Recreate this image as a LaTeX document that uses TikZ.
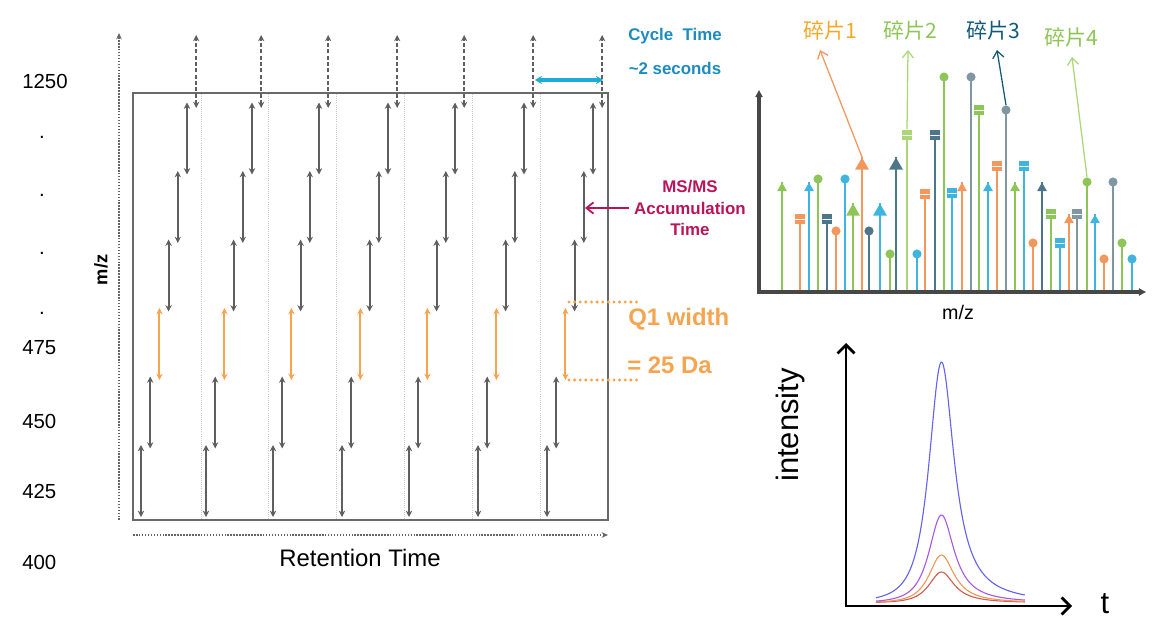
\documentclass[tikz,border=0pt]{standalone}
\usepackage{fontspec}
\setmainfont{Liberation Sans}
\newfontfamily\cjk{Noto Sans CJK SC}
\usetikzlibrary{arrows.meta,shapes.geometric}

\definecolor{scangray}{RGB}{95,95,95}
\definecolor{framegray}{RGB}{105,105,105}
\definecolor{q1orange}{RGB}{245,165,80}
\definecolor{cyccyan}{RGB}{30,172,215}
\definecolor{cyctext}{RGB}{28,140,190}
\definecolor{msmagenta}{RGB}{185,20,90}
\definecolor{fgreen}{RGB}{141,198,86}
\definecolor{lgreen}{RGB}{172,214,120}
\definecolor{forange}{RGB}{243,151,92}
\definecolor{fyellow}{RGB}{245,168,40}
\definecolor{fcyan}{RGB}{62,180,222}
\definecolor{fslate}{RGB}{78,118,138}
\definecolor{fgrey}{RGB}{128,150,162}
\definecolor{fteal}{RGB}{20,90,120}
\definecolor{pkblue}{RGB}{100,100,235}
\definecolor{pkpurple}{RGB}{170,90,220}
\definecolor{pkorange}{RGB}{240,150,90}
\definecolor{pkred}{RGB}{205,95,80}

\tikzset{
  scan/.style={scangray, line width=1.4pt,
    {Stealth[length=4.5pt,width=4.5pt]}-{Stealth[length=4.5pt,width=4.5pt]}},
  q1scan/.style={scan, q1orange},
  dscan/.style={scan, dash pattern=on 3pt off 1.5pt},
  sep/.style={black!22, densely dotted, line width=0.5pt},
  frame/.style={framegray, line width=1.6pt},
  dotaxis/.style={black!60, densely dotted, line width=1.1pt, -{Stealth[length=4.5pt,width=4pt]}},
  ticklab/.style={font=\fontsize{14.5}{16}\selectfont, inner sep=0pt},
  q1dots/.style={q1orange, line width=2.4pt, line cap=round, dash pattern=on 0pt off 4pt},
  stick/.style={line width=1.5pt},
  mtri/.style={regular polygon, regular polygon sides=3, inner sep=0pt, minimum size=8pt, anchor=corner 1},
  mTri/.style={mtri, minimum size=11.5pt},
  mcirc/.style={circle, inner sep=0pt, minimum size=6.5pt},
  msq/.style={rectangle, inner sep=0pt, minimum width=6.5pt, minimum height=7.5pt,
    path picture={\draw[white, line width=0.6pt] (path picture bounding box.west) -- (path picture bounding box.east);}},
  frag/.style={font=\cjk\fontsize{15}{18}\selectfont},
  fragline/.style={line width=0.9pt, -{Straight Barb[length=5pt,width=8pt]}},
  chromaxis/.style={black, line width=2pt,
    {Straight Barb[length=6pt,width=12pt]}-{Straight Barb[length=6pt,width=12pt]}}
}

\begin{document}
\begin{tikzpicture}[x=0.025cm, y=-0.025cm,
  declare function={
    pw(\t)=ifthenelse(\t<941.5,19,15.5);
    pe(\t)=ifthenelse(\t<941.5,1.5,1);
    pk(\t,\h)=\h/pow(1+((\t-941.5)/pw(\t))^2,pe(\t));
  }]
\useasboundingbox (0,0) rectangle (1152,624);

% m/z ticks
\foreach \lab/\yy [count=\n] in {1250/81, 475/348, 450/421, 425/491, 400/562}
  \node[ticklab, anchor=west] (y\n) at (22,\yy) {\lab};
\foreach \yy [count=\n] in {137,195,253,313}
  \node[ticklab] (d\n) at (42,\yy) {.};

% axes of the window plot
\draw[dotaxis] (119,520) -- (119,33);
\draw[dotaxis] (133,535) -- (608,535);
\node[rotate=90, font=\bfseries\fontsize{13}{15}\selectfont] (mzleft) at (101,270) {m/z};
\node[font=\fontsize{17}{20}\selectfont] (rt) at (360,558) {Retention Time};

% cycle separators and frame
\foreach \k in {1,...,6}
  \draw[sep] ({133+67.86*\k},94) -- ({133+67.86*\k},519);
\draw[frame] (133,93) rectangle (608,520);

% stepped isolation windows
\foreach \bx in {141,206,273,342,409,478,547}{
  \foreach \i in {0,...,5}{
    \ifnum\i=2 \def\sty{q1scan}\else\def\sty{scan}\fi
    \draw[\sty] ({\bx+9.2*\i},{517-68.5*\i}) -- ({\bx+9.2*\i},{445-68.5*\i});
  }
  \draw[dscan] ({\bx+55.2},108) -- ({\bx+55.2},35);
}

% cycle time
\coordinate (cycl) at (535,80);
\coordinate (cycr) at (603,80);
\draw[cyccyan, line width=2.2pt, {Stealth[length=5pt,width=6pt]}-{Stealth[length=5pt,width=6pt]}] (cycl) -- (cycr);
\node[text=cyctext, font=\bfseries\fontsize{12}{14}\selectfont] (cyc) at (675,36) {Cycle\ \ Time};
\node[text=cyctext, font=\bfseries\fontsize{12}{14}\selectfont] (sec) at (675,68) {\textasciitilde 2 seconds};

% accumulation time
\node[text=msmagenta, align=center, font=\bfseries\fontsize{12}{15.3}\selectfont] (msms) at (690,208) {MS/MS\\Accumulation\\Time};
\coordinate (acc) at (585,208);
\draw[msmagenta, line width=1.3pt, -{Straight Barb[length=5pt,width=8pt]}] (msms.west) -- (acc);

% Q1 width
\draw[q1dots] (569,302) -- (637,302);
\draw[q1dots] (569,380) -- (637,380);
\node[text=q1orange, anchor=west, inner sep=0pt, font=\bfseries\fontsize{17}{20}\selectfont] (q1a) at (628,319) {Q1 width};
\node[text=q1orange, anchor=west, inner sep=0pt, font=\bfseries\fontsize{17}{20}\selectfont] (q1b) at (627,365) {= 25 Da};

% MS/MS spectrum
\foreach \sx/\sy/\sc/\sm [count=\n] in {
  782/182/fgreen/mtri, 800/219/forange/msq, 809/182/fcyan/mtri, 818/179/fgreen/mcirc,
  827/219/fslate/msq, 836/231/forange/mcirc, 845/179/fcyan/mcirc, 853/203/fgreen/mTri,
  862/157/forange/mTri, 869/231/fslate/mcirc, 880/203/fcyan/mTri, 890/254/fgreen/mcirc,
  896/157/fslate/mTri, 907/135/lgreen/msq, 917/254/fcyan/mcirc, 925/194/forange/msq,
  935/135/fslate/msq, 944/77/fgreen/mcirc, 952/193/fcyan/msq, 962/182/forange/mtri,
  971/77/fgrey/mcirc, 979/110/fgreen/msq, 988/182/fcyan/mtri, 997/166/forange/msq,
  1006/110/fgrey/mcirc, 1015/182/fgreen/mtri, 1024/166/fcyan/msq, 1033/243/forange/mcirc,
  1042/182/fslate/mtri, 1051/214/fgreen/msq, 1060/243/fcyan/msq, 1069/214/forange/mtri,
  1077/214/fgrey/msq, 1087/182/fgreen/mcirc, 1095/214/fcyan/mtri, 1104/259/forange/mcirc,
  1113/182/fgrey/mcirc, 1122/243/fgreen/mcirc, 1132/259/fcyan/mcirc}{
  \draw[stick, \sc] (\sx,291) -- (\sx,\sy);
  \node[\sm, fill=\sc] (m\n) at (\sx,\sy) {};
}
\draw[black!72, line width=2.2pt, {Triangle[length=5pt,width=5pt]}-{Triangle[length=5pt,width=5pt]}] (759,90) -- (759,292) -- (1146,292);
\node[font=\fontsize{14}{16}\selectfont] (mzspec) at (958,312) {m/z};

% fragment labels
\node[frag, text=fyellow] (f1) at (830,30) {碎片1};
\node[frag, text=fgreen] (f2) at (910,30) {碎片2};
\node[frag, text=fteal] (f3) at (993,30) {碎片3};
\node[frag, text=fgreen] (f4) at (1071,37) {碎片4};
\coordinate (t1) at (820,50);
\coordinate (t2) at (908,50);
\coordinate (t3) at (997,50);
\coordinate (t4) at (1072,57);
\draw[fragline, forange] (m9.north) -- (t1);
\draw[fragline, lgreen] (m14.north) -- (t2);
\draw[fragline, fteal] (m25.north) -- (t3);
\draw[fragline, lgreen] (m34.north) -- (t4);

% extracted ion chromatograms
\foreach \h/\c in {31/pkred, 48/pkorange, 88/pkpurple, 241/pkblue}
  \draw[\c, line width=0.8pt, domain=876:1025, samples=120, smooth] plot (\x,{603-pk(\x,\h)});
\draw[chromaxis] (846,343) -- (846,606) -- (1072,606);
\node[rotate=90, font=\fontsize{22}{26}\selectfont] (inty) at (790,425) {intensity};
\node[font=\fontsize{22}{26}\selectfont] (tlab) at (1105,604) {t};
\end{tikzpicture}
\end{document}
